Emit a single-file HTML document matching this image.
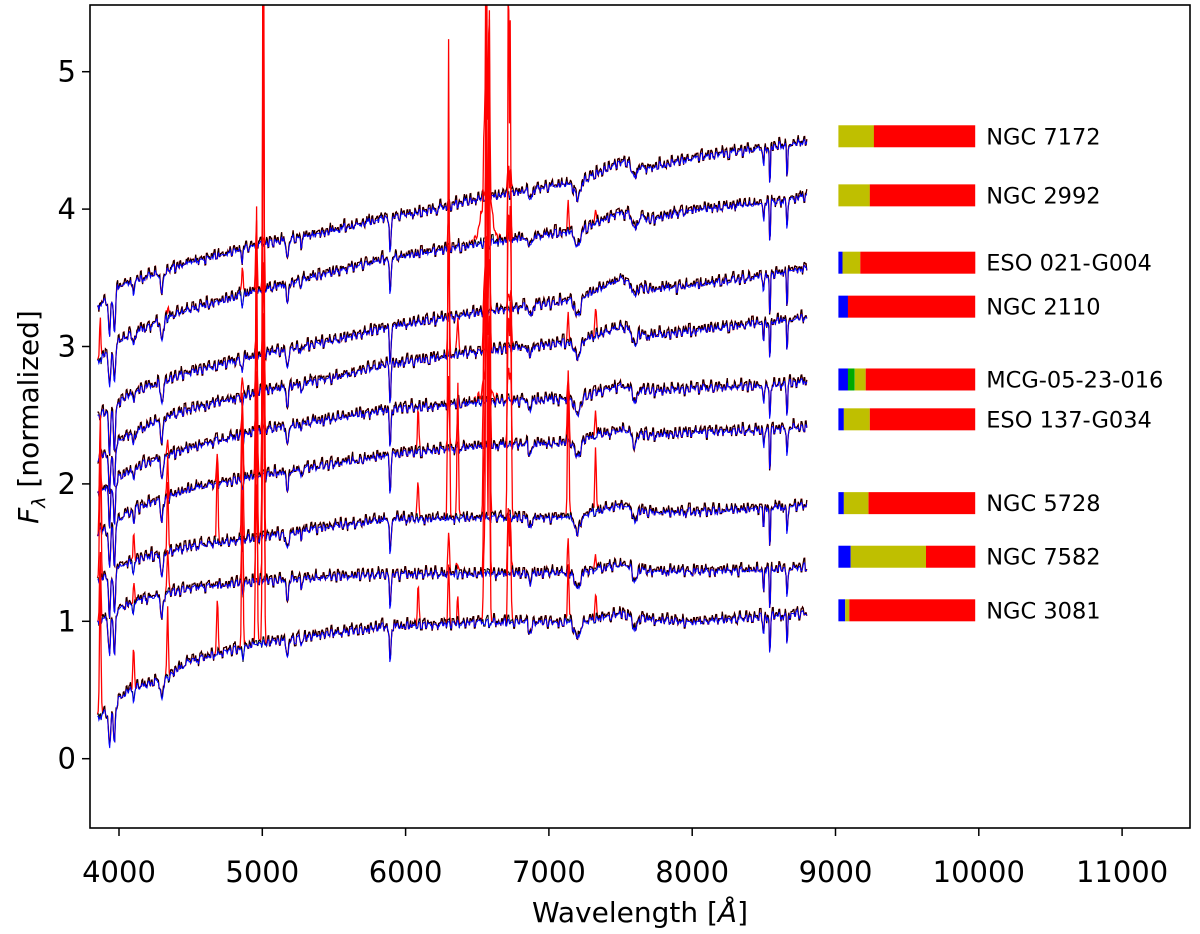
<!DOCTYPE html>
<html><head><meta charset="utf-8"><style>
body{margin:0;background:#fff;}
svg{display:block;font-family:"DejaVu Sans","Liberation Sans",sans-serif;}
</style></head><body>
<svg id="chart" width="1200" height="934" viewBox="0 0 1200 934" xmlns="http://www.w3.org/2000/svg">
<g id="spectra"></g>
<g id="bars"></g>
<rect x="90" y="5" width="1100" height="823" fill="none" stroke="#000" stroke-width="1.6"/>
<g id="axes"></g>
<text x="640" y="922" font-size="28" text-anchor="middle">Wavelength [<tspan font-style="italic">Å</tspan>]</text>
<text transform="translate(38,417) rotate(-90)" font-size="28" text-anchor="middle"><tspan font-style="italic">F</tspan><tspan font-style="italic" font-size="19" dy="7">λ</tspan><tspan dy="-7"> [normalized]</tspan></text>
</svg>
<script>
const names=["NGC 7172","NGC 2992","ESO 021-G004","NGC 2110","MCG-05-23-016","ESO 137-G034","NGC 5728","NGC 7582","NGC 3081"];
const barY=[4.53,4.10,3.61,3.29,2.76,2.47,1.86,1.47,1.08];
const fracBlue=[0,0,0.03,0.07,0.07,0.04,0.04,0.09,0.05];
const fracGreen=[0,0,0,0,0.05,0,0,0,0];
const fracYellow=[0.26,0.23,0.13,0,0.08,0.19,0.18,0.55,0.03];
const contW=[3850,3950,4000,4100,4300,4500,5000,5500,5890,6200,6500,7000,7200,7500,7700,8000,8500,8800];
const cont=[
[3.3,3.38,3.45,3.48,3.55,3.62,3.75,3.85,3.95,4.0,4.08,4.17,4.2,4.35,4.3,4.38,4.45,4.5],
[2.9,3.0,3.05,3.1,3.2,3.28,3.42,3.55,3.65,3.7,3.75,3.82,3.85,3.98,3.93,4.0,4.05,4.1],
[2.5,2.55,2.6,2.68,2.75,2.82,2.95,3.05,3.15,3.2,3.25,3.32,3.35,3.5,3.42,3.45,3.52,3.58],
[2.2,2.25,2.32,2.38,2.48,2.55,2.68,2.78,2.88,2.92,2.97,3.02,3.04,3.15,3.08,3.12,3.18,3.22],
[1.95,2.0,2.05,2.12,2.2,2.27,2.4,2.48,2.55,2.57,2.6,2.62,2.63,2.72,2.68,2.7,2.72,2.75],
[1.65,1.7,1.75,1.82,1.9,1.97,2.07,2.15,2.22,2.25,2.28,2.3,2.32,2.4,2.36,2.38,2.4,2.42],
[1.3,1.35,1.4,1.45,1.5,1.55,1.62,1.7,1.75,1.75,1.76,1.76,1.77,1.85,1.8,1.8,1.83,1.85],
[1.0,1.05,1.1,1.15,1.2,1.25,1.3,1.33,1.35,1.35,1.35,1.36,1.36,1.42,1.37,1.37,1.38,1.4],
[0.3,0.38,0.45,0.52,0.58,0.72,0.85,0.92,0.97,0.98,1.0,1.0,1.0,1.06,1.02,1.0,1.04,1.07]];
const absW=[3934,3968,4102,4300,4861,5175,5270,5892,6870,7200,7600,8498,8542,8662];
const absD=[0.3,0.3,0.1,0.15,0.08,0.12,0.05,0.3,0.08,0.12,0.1,0.15,0.3,0.25];
const absS=[7,7,6,10,5,10,6,5,10,20,15,4,4,4];
const emW=[3869,4102,4340,4686,4861,4959,5007,6087,6300,6364,6548,6563,6583,6717,6731,7135,7325];
const emH=[
[0,0,0,0,0,0,0.05,0,0,0,0.05,0.2,0.4,0.2,0.2,0,0],
[0.3,0,0.1,0,0.3,0.5,1.5,0,0.2,0,0.5,2,1.5,0.5,0.5,0.2,0.1],
[0,0,0,0,0,0.1,0.3,0,0,0,0.1,0.3,0.4,0.1,0.1,0,0],
[0,0,0,0,0.2,0.3,1,0,0.8,0.3,0.5,1.5,2,1,1,0.2,0.2],
[0.2,0,0.1,0,0.2,0.3,0.8,0,0.1,0,0.1,0.4,0.3,0.2,0.2,0.1,0],
[0.8,0,0.3,0.2,0.7,2,5,0.3,0.5,0.2,1,3,3,1,1,0.5,0.2],
[1,0.3,0.5,0.6,1,2,5,0.3,3.5,1,1.5,4,4,4,3.5,1,0.5],
[0.5,0.2,0.3,0,0.5,0.7,2,0,0.3,0.1,0.8,4,2,0.5,0.4,0.2,0.1],
[1,0.4,0.5,0.4,1.2,2,6,0.3,0.4,0.15,0.6,3,2,0.8,0.7,0.4,0.2]];
const broadH=[0,0.35,0,0,0.1,0,0,0,0];
const texture=[0.02,-0.03,0.04,-0.01,0.03,-0.04,0.01,0.05,-0.02,0.0,0.03,-0.05,0.02,0.04,-0.03,0.01,-0.02,0.05,-0.04,0.02,0.0,-0.03,0.04,-0.01,0.03,-0.02,0.05,-0.04,0.01,0.02,-0.05,0.03,0.0,-0.02,0.04,-0.03,0.02,-0.01,0.03,-0.04];
const xTicks=[4000,5000,6000,7000,8000,9000,10000,11000];
const yTicks=[0,1,2,3,4,5];

const X=w=>119+(w-4000)*0.14330;
const Y=f=>758.7-f*137.4;
const NS="http://www.w3.org/2000/svg";
function mk(tag,attrs,parent){const e=document.createElementNS(NS,tag);for(const k in attrs)e.setAttribute(k,attrs[k]);parent.appendChild(e);return e;}
function interp(arr,w){for(let i=0;i<contW.length-1;i++){if(w<=contW[i+1]){const t=(w-contW[i])/(contW[i+1]-contW[i]);return arr[i]+t*(arr[i+1]-arr[i]);}}return arr[arr.length-1];}
const sp=document.getElementById('spectra');
const clip=mk('clipPath',{id:'pc'},mk('defs',{},sp));
mk('rect',{x:90,y:5,width:1100,height:823},clip);
const gClip=mk('g',{'clip-path':'url(#pc)'},sp);
for(let g=0;g<names.length;g++){
  let pr="",pk="",pb="";
  for(let w=3850;w<=8800;w+=5){
    let c=interp(cont[g],w);
    for(let j=0;j<absW.length;j++){const d=(w-absW[j])/absS[j];c-=absD[j]*Math.exp(-0.5*d*d);}
    const tx=texture[(Math.floor(w/11)+g*7)%texture.length];
    const tx2=texture[(Math.floor(w/17)+g*3)%texture.length];
    let k=c+tx*0.7+tx2*0.5, b=c+tx*0.3+tx2*0.4-0.01;
    let e=0;
    for(let j=0;j<emW.length;j++){const d=(w-emW[j])/5;e+=emH[g][j]*Math.exp(-0.5*d*d);}
    const db=(w-6563)/35;e+=broadH[g]*Math.exp(-0.5*db*db);
    const r=k+e;
    const sx=X(w).toFixed(1);
    pr+=(pr?"L":"M")+sx+","+Y(r).toFixed(1);
    pk+=(pk?"L":"M")+sx+","+Y(k).toFixed(1);
    pb+=(pb?"L":"M")+sx+","+Y(b).toFixed(1);
  }
  const a=mk('path',{d:pr,fill:'none',stroke:'#ff0000','stroke-width':1.3},gClip);
  
  
  const k=mk('path',{d:pk,fill:'none',stroke:'#000','stroke-width':1},gClip);
  
  
  const bl=mk('path',{d:pb,fill:'none',stroke:'#0000ff','stroke-width':1},gClip);
  
  
}
const bars=document.getElementById('bars');
const x0=X(9020),x1=X(9975),bw=x1-x0;
for(let g=0;g<names.length;g++){
  const yc=Y(barY[g]);let x=x0;
  const segs=[[fracBlue[g],'#0000ff'],[fracGreen[g],'#00aa00'],[fracYellow[g],'#bfbf00'],[1-fracBlue[g]-fracGreen[g]-fracYellow[g],'#ff0000']];
  for(const [f,c] of segs){if(f<=0)continue;
    const r=mk('rect',{x:x.toFixed(1),y:yc-11,width:(f*bw).toFixed(1),height:22,fill:c},bars);
    
    
    x+=f*bw;}
  const t=mk('text',{x:x1+11,y:yc+8,'font-size':22.5},bars);t.textContent=names[g];
  
  
}
const ax=document.getElementById('axes');
for(const v of xTicks){const x=X(v);
  mk('line',{x1:x,x2:x,y1:828,y2:836,stroke:'#000','stroke-width':1.5},ax);
  const t=mk('text',{x:x,y:882,'font-size':29,'text-anchor':'middle'},ax);t.textContent=v;
  
  }
for(const v of yTicks){const y=Y(v);
  mk('line',{x1:82,x2:90,y1:y,y2:y,stroke:'#000','stroke-width':1.5},ax);
  const t=mk('text',{x:76,y:y+10,'font-size':29,'text-anchor':'end'},ax);t.textContent=v;
  
  }
</script>
</body></html>
